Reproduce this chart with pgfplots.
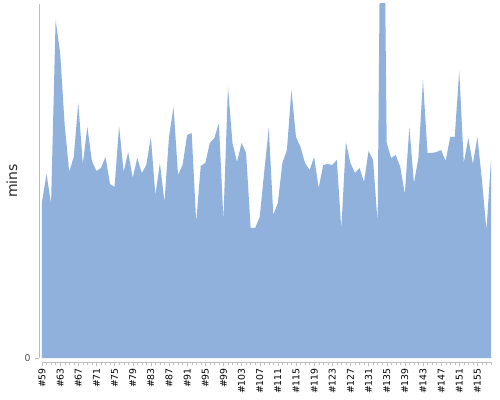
\documentclass[border=0pt]{standalone}
\usepackage{pgfplots}
\pgfplotsset{compat=1.18}
\usepackage{fontspec}
\setmainfont{DejaVu Sans}
\definecolor{areablue}{HTML}{8FB1DB}
\definecolor{axisgray}{HTML}{BDBDBD}
\begin{document}
\begin{tikzpicture}
% 1px = 0.75pt, picture is 500x400 px
\useasboundingbox (-31.5pt,-31.5pt) rectangle (343.5pt,268.5pt);
\begin{axis}[
  at={(0pt,0pt)}, anchor=origin,
  scale only axis,
  width=336.75pt, height=265.5pt,
  xmin=59, xmax=158, ymin=0, ymax=354,
  axis lines=left,
  axis line style={-, axisgray},
  axis x line shift=3pt,
  axis y line shift=2pt,
  xtick={59,63,...,155},
  minor xtick={59,...,158},
  xticklabel={\#\pgfmathprintnumber{\tick}},
  ytick={0},
  tick style={axisgray},
  tick align=outside,
  major tick length=3pt,
  minor tick length=2pt,
  /pgf/number format/assume math mode=true,
  xticklabel style={rotate=90, anchor=east, font=\fontsize{7}{8}\selectfont, text=black, inner sep=1.5pt},
  yticklabel style={font=\fontsize{7}{8}\selectfont, text=black!70},
  ylabel={mins},
  ylabel style={at={(axis description cs:-0.067,0.5)}, anchor=center, font=\fontsize{10.5}{12}\selectfont, text=black!85},
  clip=true,
]
\addplot[fill=areablue, draw=none] coordinates {
(59,156) (60,184) (61,154) (62,338) (63,305) (64,233) (65,186) (66,201) (67,255) (68,194)
(69,231) (70,197) (71,187) (72,190) (73,201) (74,174) (75,171) (76,232) (77,186) (78,206)
(79,180) (80,200) (81,185) (82,193) (83,221) (84,163) (85,195) (86,156) (87,221) (88,251)
(89,183) (90,193) (91,223) (92,225) (93,136) (94,192) (95,195) (96,215) (97,220) (98,235)
(99,138) (100,271) (101,215) (102,196) (103,215) (104,205) (105,130) (106,130) (107,141) (108,186)
(109,230) (110,143) (111,155) (112,195) (113,208) (114,268) (115,221) (116,211) (117,195) (118,188)
(119,201) (120,170) (121,193) (122,194) (123,193) (124,198) (125,129) (126,216) (127,195) (128,185)
(129,190) (130,176) (131,207) (132,198) (133,135) (134,660) (135,215) (136,200) (137,203) (138,191)
(139,164) (140,231) (141,175) (142,200) (143,278) (144,205) (145,205) (146,206) (147,208) (148,197)
(149,221) (150,221) (151,287) (152,195) (153,220) (154,194) (155,221) (156,178) (157,128) (158,198)
} \closedcycle;
\end{axis}
\end{tikzpicture}
\end{document}
